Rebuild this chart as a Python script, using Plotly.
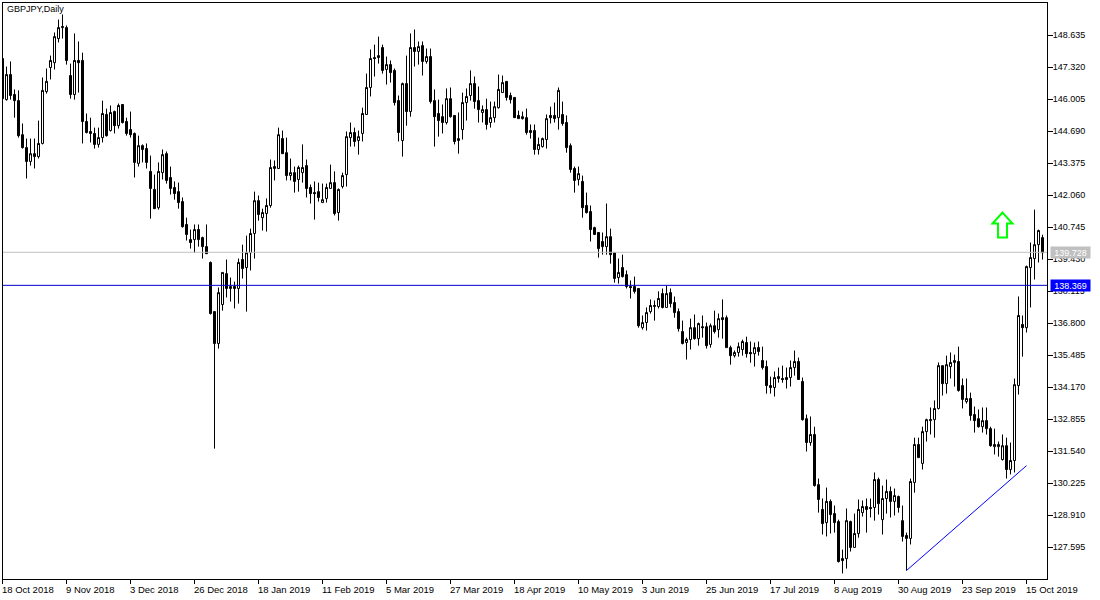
import plotly.graph_objects as go

# GBPJPY daily candles
highs = [
    147.69, 147.36, 147.57, 146.42, 146.38, 145.02, 144.40, 144.40, 144.40, 145.14,
    146.91, 147.28, 147.81, 148.76, 149.29, 149.50, 149.05, 147.48, 148.72, 148.39,
    147.93, 145.43, 145.26, 144.85, 144.85, 145.96, 145.63, 145.76, 145.55, 145.84,
    145.80, 145.26, 145.51, 144.65, 144.52, 144.16, 144.20, 143.70, 142.92, 143.42,
    143.95, 143.87, 143.25, 142.64, 142.59, 141.98, 141.15, 140.66, 140.87, 140.87,
    140.37, 140.87, 139.35, 137.29, 138.28, 138.90, 139.43, 138.69, 138.52, 139.47,
    140.04, 140.41, 140.70, 142.22, 142.06, 141.52, 141.94, 143.54, 143.50, 144.85,
    144.73, 144.44, 143.58, 143.25, 143.29, 144.16, 143.54, 142.51, 142.64, 142.59,
    142.55, 142.55, 143.33, 143.05, 142.35, 143.00, 144.69, 145.06, 144.85, 144.73,
    145.67, 147.07, 148.06, 148.26, 148.59, 148.26, 147.77, 147.61, 147.28, 146.17,
    146.70, 147.81, 148.72, 148.88, 148.39, 148.39, 148.10, 148.10, 146.42, 146.00,
    145.80, 146.46, 146.50, 145.35, 145.47, 146.29, 146.46, 147.20, 146.95, 146.54,
    145.76, 146.04, 145.92, 145.92, 147.03, 146.99, 146.75, 146.29, 146.09, 145.55,
    145.51, 145.63, 144.98, 144.98, 144.44, 144.44, 145.39, 145.71, 145.88, 146.50,
    145.92, 145.35, 144.20, 143.25, 143.25, 142.88, 142.18, 141.65, 140.78, 140.54,
    140.54, 141.73, 140.70, 139.71, 139.47, 139.63, 138.98, 138.57, 138.73, 138.24,
    137.13, 137.46, 137.79, 137.75, 138.12, 138.24, 138.36, 138.24, 137.91, 137.42,
    136.92, 136.22, 137.00, 137.17, 136.84, 137.13, 136.84, 136.80, 137.33, 137.21,
    137.79, 137.13, 135.89, 135.69, 136.02, 136.14, 136.26, 136.06, 136.02, 136.06,
    135.85, 135.28, 134.62, 134.83, 134.99, 135.07, 134.99, 135.28, 135.69, 135.40,
    134.58, 133.06, 132.98, 132.56, 130.43, 129.61, 130.06, 129.57, 129.32, 128.74,
    127.51, 129.20, 128.70, 128.99, 129.57, 129.53, 129.61, 129.61, 130.68, 130.47,
    130.14, 130.39, 130.10, 130.02, 129.73, 129.32, 128.21, 130.43, 132.11, 132.11,
    132.56, 132.89, 133.35, 133.64, 135.20, 135.07, 135.48, 135.61, 135.52, 135.85,
    134.54, 134.54, 133.96, 133.39, 133.27, 133.35, 133.35, 132.56, 132.48, 131.95,
    132.24, 132.11, 131.91, 134.54, 137.91, 137.13, 139.18, 140.13, 141.48, 140.66,
    140.45,
]
opens = [
    147.69, 146.00, 147.03, 146.21, 145.96, 144.56, 144.03, 143.46, 143.78, 143.66,
    144.20, 146.33, 147.32, 147.52, 148.51, 148.96, 148.96, 146.99, 146.21, 147.61,
    147.61, 145.10, 144.69, 144.61, 144.16, 144.44, 145.39, 144.73, 145.51, 144.93,
    145.80, 145.10, 144.77, 144.61, 143.38, 144.11, 143.99, 143.05, 142.31, 141.56,
    143.00, 143.78, 142.80, 142.39, 142.22, 141.81, 140.87, 140.25, 140.25, 140.66,
    140.33, 139.96, 139.31, 137.29, 135.98, 137.58, 138.85, 138.24, 138.32, 138.24,
    139.43, 139.10, 139.71, 140.50, 141.85, 141.15, 141.32, 141.65, 143.17, 143.17,
    144.40, 143.82, 142.88, 143.00, 142.72, 143.00, 143.29, 142.39, 142.18, 142.22,
    141.77, 141.94, 142.35, 142.59, 141.36, 142.43, 142.92, 144.44, 144.65, 144.32,
    144.61, 145.39, 146.50, 147.73, 147.73, 148.14, 147.24, 147.44, 147.20, 145.96,
    144.32, 146.66, 145.51, 148.14, 147.98, 148.22, 147.57, 147.77, 145.96, 145.43,
    145.30, 145.06, 146.04, 145.35, 144.32, 144.77, 145.88, 146.17, 146.66, 145.96,
    145.47, 145.59, 145.06, 145.26, 145.67, 146.29, 146.75, 146.17, 146.09, 145.35,
    145.30, 145.26, 144.73, 144.73, 143.95, 144.07, 144.36, 145.35, 145.35, 145.26,
    145.39, 145.06, 144.11, 143.17, 142.72, 142.64, 141.65, 141.40, 140.74, 140.54,
    140.17, 139.96, 140.37, 139.71, 138.69, 139.10, 138.81, 138.32, 138.32, 138.24,
    136.63, 136.84, 137.29, 137.50, 137.50, 138.03, 137.46, 138.07, 137.66, 137.29,
    136.47, 136.02, 136.14, 136.63, 136.18, 136.67, 136.67, 135.94, 136.71, 136.55,
    137.04, 137.04, 135.81, 135.48, 135.61, 135.73, 136.02, 135.61, 135.56, 135.81,
    135.28, 135.03, 134.25, 134.17, 134.62, 134.54, 134.58, 134.58, 134.99, 135.24,
    134.42, 132.89, 131.91, 132.24, 130.18, 129.16, 128.62, 129.49, 128.99, 128.66,
    127.14, 127.14, 128.66, 127.60, 128.17, 129.03, 129.28, 129.24, 129.24, 130.39,
    128.74, 129.61, 129.90, 129.49, 129.69, 128.70, 128.09, 127.97, 130.27, 131.83,
    131.05, 132.36, 132.81, 132.85, 133.31, 135.07, 134.33, 135.03, 135.20, 135.24,
    134.25, 133.59, 133.72, 133.06, 132.89, 132.56, 132.81, 132.48, 131.74, 131.74,
    131.21, 131.78, 130.80, 131.17, 134.25, 136.76, 136.63, 139.10, 139.47, 140.04,
    140.33,
]
closes = [
    146.04, 147.03, 146.17, 145.96, 144.52, 144.03, 143.46, 143.78, 143.66, 144.20,
    146.38, 146.75, 147.61, 148.59, 148.96, 149.00, 147.61, 146.21, 147.61, 147.52,
    145.10, 144.65, 144.61, 144.16, 144.44, 145.43, 144.52, 145.47, 144.93, 145.76,
    145.06, 144.61, 144.56, 143.42, 144.11, 143.95, 143.42, 142.35, 141.52, 143.05,
    143.74, 142.68, 142.35, 142.14, 141.77, 140.78, 140.46, 140.13, 140.66, 140.25,
    139.96, 139.67, 137.21, 135.98, 138.07, 138.90, 138.24, 138.32, 138.24, 139.31,
    139.06, 139.71, 140.50, 141.85, 141.28, 141.36, 141.65, 143.21, 143.25, 144.56,
    143.78, 142.88, 143.00, 142.64, 143.21, 143.21, 142.35, 142.14, 142.14, 141.98,
    141.89, 142.39, 142.59, 141.32, 142.31, 142.88, 144.48, 144.65, 144.28, 144.48,
    145.43, 146.50, 147.69, 147.69, 147.81, 147.20, 147.44, 147.11, 145.88, 144.65,
    146.66, 145.51, 148.14, 147.98, 148.18, 147.57, 147.77, 145.92, 145.30, 145.14,
    145.06, 146.04, 145.30, 144.28, 144.40, 145.88, 146.13, 146.66, 145.92, 145.59,
    145.59, 144.98, 145.26, 145.71, 146.42, 146.70, 146.09, 146.00, 145.26, 145.22,
    145.22, 144.65, 144.65, 143.95, 144.16, 144.40, 145.22, 145.26, 145.22, 146.38,
    145.02, 144.03, 143.13, 142.68, 142.96, 141.56, 141.36, 140.66, 140.46, 139.88,
    139.96, 140.37, 139.63, 138.65, 138.90, 138.73, 138.32, 138.28, 138.12, 136.71,
    136.84, 137.25, 137.54, 137.54, 137.83, 137.46, 138.03, 137.62, 137.25, 136.59,
    135.98, 136.14, 136.63, 136.18, 136.80, 136.63, 135.89, 136.71, 136.47, 137.00,
    136.96, 135.81, 135.48, 135.61, 135.85, 136.06, 135.56, 135.56, 135.81, 135.65,
    134.99, 134.25, 134.17, 134.58, 134.54, 134.50, 134.50, 134.99, 135.24, 134.50,
    132.85, 131.91, 132.24, 130.14, 129.57, 128.58, 129.49, 128.95, 128.62, 127.02,
    127.06, 128.70, 127.60, 128.17, 129.16, 129.28, 129.16, 129.20, 130.39, 129.40,
    129.61, 129.90, 129.49, 129.73, 129.24, 128.05, 127.97, 130.31, 131.83, 131.29,
    132.36, 132.85, 132.85, 133.31, 135.07, 134.33, 135.11, 135.20, 135.28, 134.05,
    133.68, 133.72, 133.02, 132.81, 132.56, 132.81, 132.48, 131.78, 131.83, 131.83,
    131.78, 130.80, 131.17, 134.29, 137.13, 136.63, 139.14, 139.51, 140.04, 140.62,
    139.71,
]
lows = [
    145.84, 145.96, 146.00, 145.26, 144.44, 143.99, 142.76, 143.29, 143.17, 143.58,
    144.16, 146.25, 146.83, 147.24, 148.35, 148.51, 147.44, 146.04, 146.00, 146.29,
    144.20, 144.61, 144.24, 143.99, 144.03, 144.24, 144.48, 144.69, 144.61, 144.81,
    145.02, 144.52, 144.44, 142.80, 143.25, 143.42, 143.17, 141.11, 141.52, 141.48,
    142.72, 142.55, 142.10, 141.89, 141.52, 140.74, 140.21, 139.88, 139.71, 139.96,
    139.47, 139.67, 137.17, 131.66, 135.77, 137.33, 137.87, 137.70, 137.42, 137.62,
    138.65, 137.29, 138.98, 139.47, 141.03, 140.62, 140.58, 141.56, 142.68, 143.17,
    143.78, 142.68, 142.68, 142.18, 142.22, 142.59, 141.98, 141.73, 141.07, 141.81,
    141.77, 141.77, 142.35, 141.24, 141.03, 142.35, 142.43, 144.07, 144.07, 143.74,
    144.28, 145.39, 146.13, 146.95, 147.48, 147.07, 146.62, 146.70, 145.76, 144.28,
    143.66, 144.93, 145.30, 147.36, 147.44, 146.99, 147.48, 145.84, 144.07, 144.48,
    144.61, 144.98, 145.26, 144.16, 143.78, 144.36, 145.14, 145.96, 145.63, 145.06,
    145.06, 144.77, 144.85, 145.06, 145.63, 146.29, 145.96, 145.84, 145.26, 145.22,
    145.18, 144.56, 144.40, 143.74, 143.74, 144.03, 143.99, 145.02, 145.06, 144.77,
    144.93, 143.82, 143.00, 142.18, 142.47, 141.15, 141.32, 140.17, 140.46, 139.51,
    139.63, 139.63, 139.26, 138.48, 138.44, 138.69, 138.24, 137.83, 138.03, 136.63,
    136.55, 136.51, 137.21, 136.92, 137.42, 137.42, 137.46, 137.46, 137.04, 136.47,
    135.94, 135.32, 135.73, 136.14, 135.89, 136.22, 135.77, 135.81, 136.39, 136.22,
    136.18, 135.81, 135.11, 135.40, 135.44, 135.48, 135.40, 135.19, 135.03, 135.48,
    134.91, 133.92, 133.92, 133.80, 134.37, 134.37, 134.13, 134.21, 134.66, 134.50,
    132.81, 131.54, 131.78, 130.10, 129.03, 128.13, 128.05, 128.17, 128.21, 126.98,
    126.53, 126.73, 127.43, 127.60, 128.00, 128.87, 128.21, 128.83, 128.70, 128.95,
    128.13, 128.99, 128.83, 128.91, 129.03, 127.84, 126.65, 127.72, 129.85, 131.29,
    130.80, 131.95, 132.24, 132.11, 133.27, 133.84, 133.92, 134.54, 134.21, 134.00,
    133.31, 133.51, 132.81, 132.32, 132.52, 132.32, 132.24, 131.74, 131.42, 131.33,
    131.17, 130.43, 130.60, 130.68, 133.88, 135.44, 136.43, 137.46, 138.61, 139.31,
    139.43,
]

date_labels = [
    "18 Oct 2018", "9 Nov 2018", "3 Dec 2018", "26 Dec 2018", "18 Jan 2019", "11 Feb 2019",
    "5 Mar 2019", "27 Mar 2019", "18 Apr 2019", "10 May 2019", "3 Jun 2019", "25 Jun 2019",
    "17 Jul 2019", "8 Aug 2019", "30 Aug 2019", "23 Sep 2019", "15 Oct 2019",
]
date_step = 16
price_ticks = [
    148.635, 147.320, 146.005, 144.690, 143.375, 142.060, 140.745, 139.430, 138.115,
    136.800, 135.485, 134.170, 132.855, 131.540, 130.225, 128.910, 127.595,
]
bid = 139.728
level = 138.369
trend_x = [226, 256]
trend_y = [126.65, 130.96]

font = dict(family="Liberation Sans", size=9, color="black")
date_font = dict(family="Liberation Sans", size=9.5, color="black")
date_ticks = [i * date_step for i in range(len(date_labels))]
x_range = [0.125, 261.125]

fig = go.Figure()
fig.add_trace(go.Candlestick(
    x=list(range(len(closes))),
    open=opens, high=highs, low=lows, close=closes,
    increasing=dict(fillcolor="white", line=dict(color="black", width=1)),
    decreasing=dict(fillcolor="black", line=dict(color="black", width=1)),
    whiskerwidth=0,
    showlegend=False,
))

fig.add_hline(y=bid, line=dict(color="#C0C0C0", width=1))
fig.add_hline(y=level, line=dict(color="#0000CD", width=1))
fig.add_shape(type="line", x0=trend_x[0], x1=trend_x[1], y0=trend_y[0], y1=trend_y[1],
              line=dict(color="#0000FF", width=1))
# up arrow object, sized in pixels around its anchor
fig.add_shape(type="path", xref="x", yref="y", xsizemode="pixel", ysizemode="pixel",
              xanchor=250, yanchor=141.36,
              path="M 0 0 L 10 -11 L 4.5 -11 L 4.5 -25 L -4.5 -25 L -4.5 -11 L -10 -11 Z",
              line=dict(color="#00FF00", width=2), fillcolor="rgba(0,0,0,0)")
# first date tick falls just left of the axis range, so the axis does not draw it
fig.add_shape(type="line", xref="paper", yref="paper", x0=-0.5 / 1044, x1=-0.5 / 1044,
              y0=0, y1=-5 / 576, line=dict(color="black", width=1))

annotations = [dict(text="GBPJPY,Daily", xref="paper", yref="paper", x=0.0017, y=1,
                    yanchor="top", xanchor="left", yshift=1, showarrow=False, font=font)]
for tick, label in zip(date_ticks, date_labels):
    annotations.append(dict(text=label, x=max(tick, x_range[0]), xref="x", y=0, yref="paper",
                            xanchor="left", yanchor="top", xshift=-3, yshift=-3,
                            showarrow=False, font=date_font))
for price, color in [(bid, "#C0C0C0"), (level, "#0000FF")]:
    annotations.append(dict(text=f"{price:.3f}", xref="paper", x=1.003, y=price, yref="y",
                            xanchor="left", yanchor="middle", showarrow=False, width=39, height=11,
                            bgcolor=color, borderpad=0, font=dict(family="Liberation Sans", size=9, color="white")))

fig.update_layout(
    width=1100, height=600,
    margin=dict(l=3, r=53, t=3, b=21),
    paper_bgcolor="white", plot_bgcolor="white",
    boxgap=0.5, boxgroupgap=0,
    font=font,
    annotations=annotations,
    xaxis=dict(range=x_range, rangeslider_visible=False, showgrid=False, zeroline=False,
               tickvals=date_ticks, showticklabels=False, ticks="outside", ticklen=4, tickcolor="black",
               showline=True, mirror=True, linecolor="black", linewidth=1),
    yaxis=dict(range=[126.302, 149.971], side="right", showgrid=False, zeroline=False,
               tickvals=price_ticks, ticktext=[f"{p:.3f}" for p in price_ticks],
               ticks="outside", ticklen=5, tickcolor="black", tickfont=font,
               ticklabelstandoff=-2, ticklabelshift=-1,
               showline=True, mirror=True, linecolor="black", linewidth=1),
)

# page margin off so the chart sits at the window corner
fig.write_html("out.html", config=dict(displayModeBar=False),
               post_script="document.body.style.margin='0'")
